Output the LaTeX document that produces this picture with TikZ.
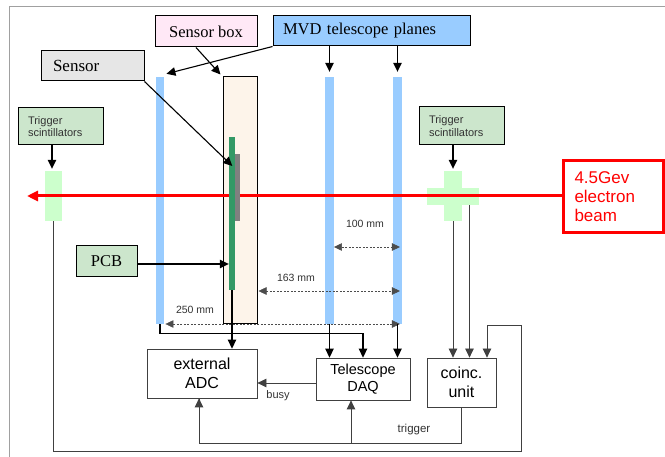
\documentclass[tikz,border=0pt]{standalone}
\usepackage{fontspec}
\setmainfont{Liberation Serif}
\setsansfont{Liberation Sans}
\usetikzlibrary{arrows.meta}
\definecolor{planeblue}{HTML}{99CCFF}
\definecolor{pinkfill}{HTML}{FFE8F6}
\definecolor{grayfill}{HTML}{E6E6E6}
\definecolor{greenlbl}{HTML}{CCE6CC}
\definecolor{scintgreen}{HTML}{CCFFCC}
\definecolor{boxpeach}{HTML}{FDF4EA}
\definecolor{stripgreen}{HTML}{339966}
\definecolor{chipgray}{HTML}{808080}
\definecolor{beamred}{HTML}{FF0000}
\definecolor{framegray}{HTML}{A0A0A0}
\definecolor{wiregray}{HTML}{404040}
\tikzset{
  lbl/.style={draw=black, line width=1pt, inner sep=0pt, anchor=center},
  serifbig/.style={font=\fontsize{16.5}{18}\selectfont},
  sanssmall/.style={font=\sffamily\fontsize{11}{12.5}\selectfont, text=black!80},
  sansmid/.style={font=\sffamily\fontsize{16}{19}\selectfont},
  blk/.style={draw=black!75, line width=0.8pt, inner sep=0pt, fill=white},
  plane/.style={fill=planeblue, draw=none, inner sep=0pt, minimum width=8.5pt},
  solid/.style={fill=#1, draw=none, inner sep=0pt},
  tip/.style={-{Triangle[length=9pt,width=8.5pt]}},
  wire/.style={draw=black, line width=1.3pt, tip},
  sig/.style={draw=wiregray, line width=0.8pt},
  dim/.style={draw=black!70, line width=0.5pt, dash pattern=on 2pt off 1.5pt,
     {Triangle[length=8pt,width=7.5pt]}-{Triangle[length=8pt,width=7.5pt]}},
  ptr/.style={draw=black, line width=1.1pt, tip},
  dimtext/.style={font=\sffamily\fontsize{10.5}{12}\selectfont, text=black!80, inner sep=0pt},
}
\begin{document}
\begin{tikzpicture}[x=1pt,y=-1pt]
\useasboundingbox (0,0) rectangle (665,457);
\fill[white] (0,0) rectangle (665,457);
% frame
\draw[framegray, line width=1pt] (9,457) -- (9,7) -- (665,7);

% labels at top
\node[lbl, fill=pinkfill, serifbig, minimum width=102pt, minimum height=31pt] (sbl) at (206,31.5) {Sensor box};
\node[lbl, fill=planeblue, serifbig, minimum width=197pt, minimum height=30pt, text width=177pt, align=left] (mvd) at (371.5,31) {MVD telescope planes};
\node[lbl, fill=grayfill, font=\fontsize{17}{18}\selectfont, minimum width=103pt, minimum height=30pt, text width=79pt, align=left] (sensl) at (92.5,66) {Sensor};
\node[lbl, fill=greenlbl, sanssmall, minimum width=85pt, minimum height=37pt, text width=65pt, align=left] (trigl) at (60.5,126.5) {Trigger\\scintillators};
\node[lbl, fill=greenlbl, sanssmall, minimum width=85pt, minimum height=38pt, text width=65pt, align=left] (trigr) at (461.5,126) {Trigger\\scintillators};
\node[lbl, fill=greenlbl, serifbig, minimum width=61pt, minimum height=31pt] (pcbl) at (106.5,261.5) {PCB};

% planes and sensor box
\node[plane, minimum height=247pt] (p1) at (160,200.5) {};
\node[plane, minimum height=247pt] (p2) at (329.5,200.5) {};
\node[plane, minimum height=247pt] (p3) at (397.5,200.5) {};
\node[draw=black, line width=1pt, fill=boxpeach, inner sep=0pt, minimum width=34pt, minimum height=247pt] (sbox) at (240,200.5) {};

% scintillators
\node[solid=scintgreen, minimum width=17pt, minimum height=50pt] (lsc) at (53.5,196) {};
\node[solid=scintgreen, minimum width=52pt, minimum height=17pt] (ch) at (453,196.5) {};
\node[solid=scintgreen, minimum width=18pt, minimum height=50pt] (cv) at (453,196) {};

% beam
\node[draw=beamred, line width=2.6pt, inner sep=0pt, minimum width=100pt, minimum height=72pt,
      text width=78pt, align=left, text=beamred, font=\sffamily\fontsize{17}{19}\selectfont] (beam) at (613.5,196.5) {4.5Gev\\electron\\beam};
\draw[beamred, line width=3pt, -{Triangle[length=11pt,width=10pt]}] (beam.west |- 0,196) -- (27,196) coordinate (beamend);

% sensor chip and PCB strip (on top of the beam)
\node[solid=chipgray, minimum width=5pt, minimum height=67pt] (chip) at (237.5,187.5) {};
\node[solid=stripgreen, minimum width=6pt, minimum height=153pt] (strip) at (232,213.5) {};

% electronics
\node[blk, sansmid, minimum width=110pt, minimum height=49pt, align=center] (adc) at (202,373.5) {external\\ADC};
\node[blk, font=\sffamily\fontsize{14.5}{17}\selectfont, minimum width=94pt, minimum height=42pt, align=center] (daq) at (363,379) {Telescope\\DAQ};
\node[blk, sansmid, minimum width=69pt, minimum height=49pt, align=center] (coinc) at (461.5,382.5) {coinc.\\unit};

% label pointers
\draw[ptr] ([xshift=-10pt]sbl.south) -- ([shift={(-2pt,2pt)}]sbox.north west);
\draw[ptr] (mvd.south west) -- ([shift={(2pt,3pt)}]p1.north east);
\draw[ptr] (mvd.south -| p2.north) -- ([yshift=5pt]p2.north);
\draw[ptr] (mvd.south -| p3.north) -- ([yshift=5pt]p3.north);
\draw[ptr] (sensl.south east) -- ([shift={(-2.5pt,21.5pt)}]chip.west);
\draw[ptr] ([xshift=-1.5pt]trigl.south -| lsc.north) -- ([shift={(-1.5pt,2pt)}]lsc.north);
\draw[ptr] (trigr.south -| cv.north) -- ([yshift=2pt]cv.north);
\draw[ptr] ([yshift=-2.5pt]pcbl.east) -- ([yshift=-2.5pt]pcbl.east -| strip.west);

% dimension lines
\coordinate (d100) at (0,247);
\coordinate (d163) at (0,291);
\coordinate (d250) at (0,324);
\draw[dim] (p2.east |- d100) -- ([xshift=-2pt]p3.east |- d100);
\draw[dim] ([xshift=1pt]sbox.east |- d163) -- ([xshift=-2pt]p3.east |- d163);
\draw[dim] ([xshift=1pt]p1.east |- d250) -- ([xshift=-2pt]p3.east |- d250);
\node[dimtext] (t100) at (365,224) {100 mm};
\node[dimtext] (t163) at (296,278) {163 mm};
\node[dimtext] (t250) at (195,310) {250 mm};

% data wires
\draw[wire] (p1.south) -- ++(0,9) -| (daq.north);
\draw[wire] (p2.south) -- (p2.south |- daq.north);
\draw[wire] (p3.south) -- (p3.south |- daq.north);
\draw[wire] (strip.south) -- (strip.south |- adc.north);

% busy
\draw[sig, tip] ([yshift=-4pt]daq.west) -- ([yshift=-9.5pt]adc.east);
\node[dimtext, font=\sffamily\fontsize{11}{12}\selectfont] (busy) at (278,396) {busy};

% trigger
\coordinate (dq) at ([xshift=-12pt]daq.south);
\coordinate (aq) at ([xshift=-3pt]adc.south);
\draw[sig] (coinc.south) -- ++(0,36) coordinate (tc) -| (aq);
\draw[sig, tip] (tc -| aq) -- (aq);
\draw[sig, tip] (tc -| dq) -- (dq);
\node[dimtext, font=\sffamily\fontsize{11.5}{12}\selectfont] (trig) at (414,430) {trigger};

% scintillator wires
\coordinate (loopbr) at (521,451.5);
\coordinate (looptr) at (521,325);
\draw[sig, tip] (lsc.south) |- (loopbr) -- (looptr) -| ([xshift=25.5pt]coinc.north);
\draw[sig, tip] (cv.south) -- (cv.south |- coinc.north);
\draw[sig, tip] ([xshift=16.5pt]ch.south) -- ([xshift=16.5pt]ch.south |- coinc.north);
\end{tikzpicture}
\end{document}
